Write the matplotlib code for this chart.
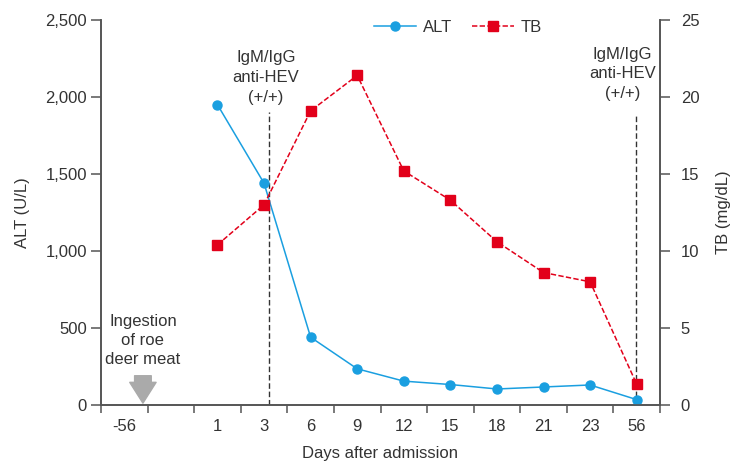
import numpy as np
import matplotlib
matplotlib.use("Agg")
import matplotlib.pyplot as plt

plt.rcParams['font.family'] = ['Liberation Sans', 'DejaVu Sans']

categories = ['-56', '', '1', '3', '6', '9', '12', '15', '18', '21', '23', '56']
alt_values = [np.nan, np.nan, 1950, 1440, 440, 235, 155, 133, 104, 117, 130, 35]
tb_values = [np.nan, np.nan, 10.4, 13.0, 19.1, 21.4, 15.2, 13.3, 10.6, 8.6, 8.0, 1.35]

blue = '#1a9fe0'
red = '#e2001a'
txt = '#333333'
spine_c = '#555555'

fig = plt.figure(figsize=(7.4, 4.66), dpi=100)
ax = fig.add_axes([101/740, 1-405/466, (660-101)/740, (405-20)/466])
ax2 = ax.twinx()

x = np.arange(len(categories))
l1, = ax.plot(x, alt_values, color=blue, lw=1.1, marker='o', ms=6.5, label='ALT', zorder=3)
l2, = ax2.plot(x, tb_values, color=red, lw=1.1, ls=(0, (3.5, 1.5)), marker='s', ms=7.5, label='TB', zorder=3)

ax.set_xlim(-0.5, len(categories) - 0.5)
ax.set_ylim(0, 2500)
ax2.set_ylim(0, 25)
ax.set_yticks([0, 500, 1000, 1500, 2000, 2500])
ax.set_yticklabels(['0', '500', '1,000', '1,500', '2,000', '2,500'])
ax2.set_yticks([0, 5, 10, 15, 20, 25])

ax.set_xticks(x)
ax.set_xticklabels(categories)
ax.set_xticks(np.arange(-0.5, len(categories), 1), minor=True)
ax.tick_params(axis='x', which='major', length=0, pad=10, labelsize=12, colors=txt)
ax.tick_params(axis='x', which='minor', length=6, width=1.1, color=spine_c, direction='out')
ax.tick_params(axis='y', length=7, width=1.1, color=spine_c, labelsize=12, labelcolor=txt, pad=3)
ax2.tick_params(axis='y', length=7, width=1.1, color=spine_c, labelsize=12, labelcolor=txt, pad=8)

for a in (ax, ax2):
    a.spines['top'].set_visible(False)
    for s in ('left', 'right', 'bottom'):
        a.spines[s].set_color(spine_c)
        a.spines[s].set_linewidth(1.2)

ax.set_ylabel('ALT (U/L)', fontsize=12, color=txt, labelpad=11)
ax2.set_ylabel('TB (mg/dL)', fontsize=12, color=txt, rotation=90, labelpad=12)
ax.set_xlabel('Days after admission', fontsize=12, color=txt, labelpad=9)

# annotations
ax.plot([3.1, 3.1], [0, 1900], color='#333333', lw=1.0, ls=(0, (4, 2)), zorder=2)
ax.plot([10.98, 10.98], [0, 1890], color='#333333', lw=1.0, ls=(0, (4, 2)), zorder=2)
ax.text(3.04, 2125, 'IgM/IgG\nanti-HEV\n(+/+)', ha='center', va='center', fontsize=12,
        color=txt, linespacing=1.4)
ax.text(10.7, 2150, 'IgM/IgG\nanti-HEV\n(+/+)', ha='center', va='center', fontsize=12,
        color=txt, linespacing=1.4)
ax.text(0.4, 420, 'Ingestion\nof roe\ndeer meat', ha='center', va='center', fontsize=12,
        color=txt, linespacing=1.35)
ax.annotate('', xy=(0.4, 12), xytext=(0.4, 190),
            arrowprops=dict(arrowstyle='simple,head_width=0.95,head_length=0.75,tail_width=0.6',
                            color='#aaaaaa', mutation_scale=20, shrinkA=0, shrinkB=0))

fig.legend(handles=[l1, l2], labels=['ALT', 'TB'], loc='center', bbox_to_anchor=(458/740, 1-27/466),
           ncol=2, frameon=False, fontsize=12, handlelength=2.5, columnspacing=1.2,
           handletextpad=0.4, labelcolor=txt)

fig.savefig('out.png', dpi=100)
